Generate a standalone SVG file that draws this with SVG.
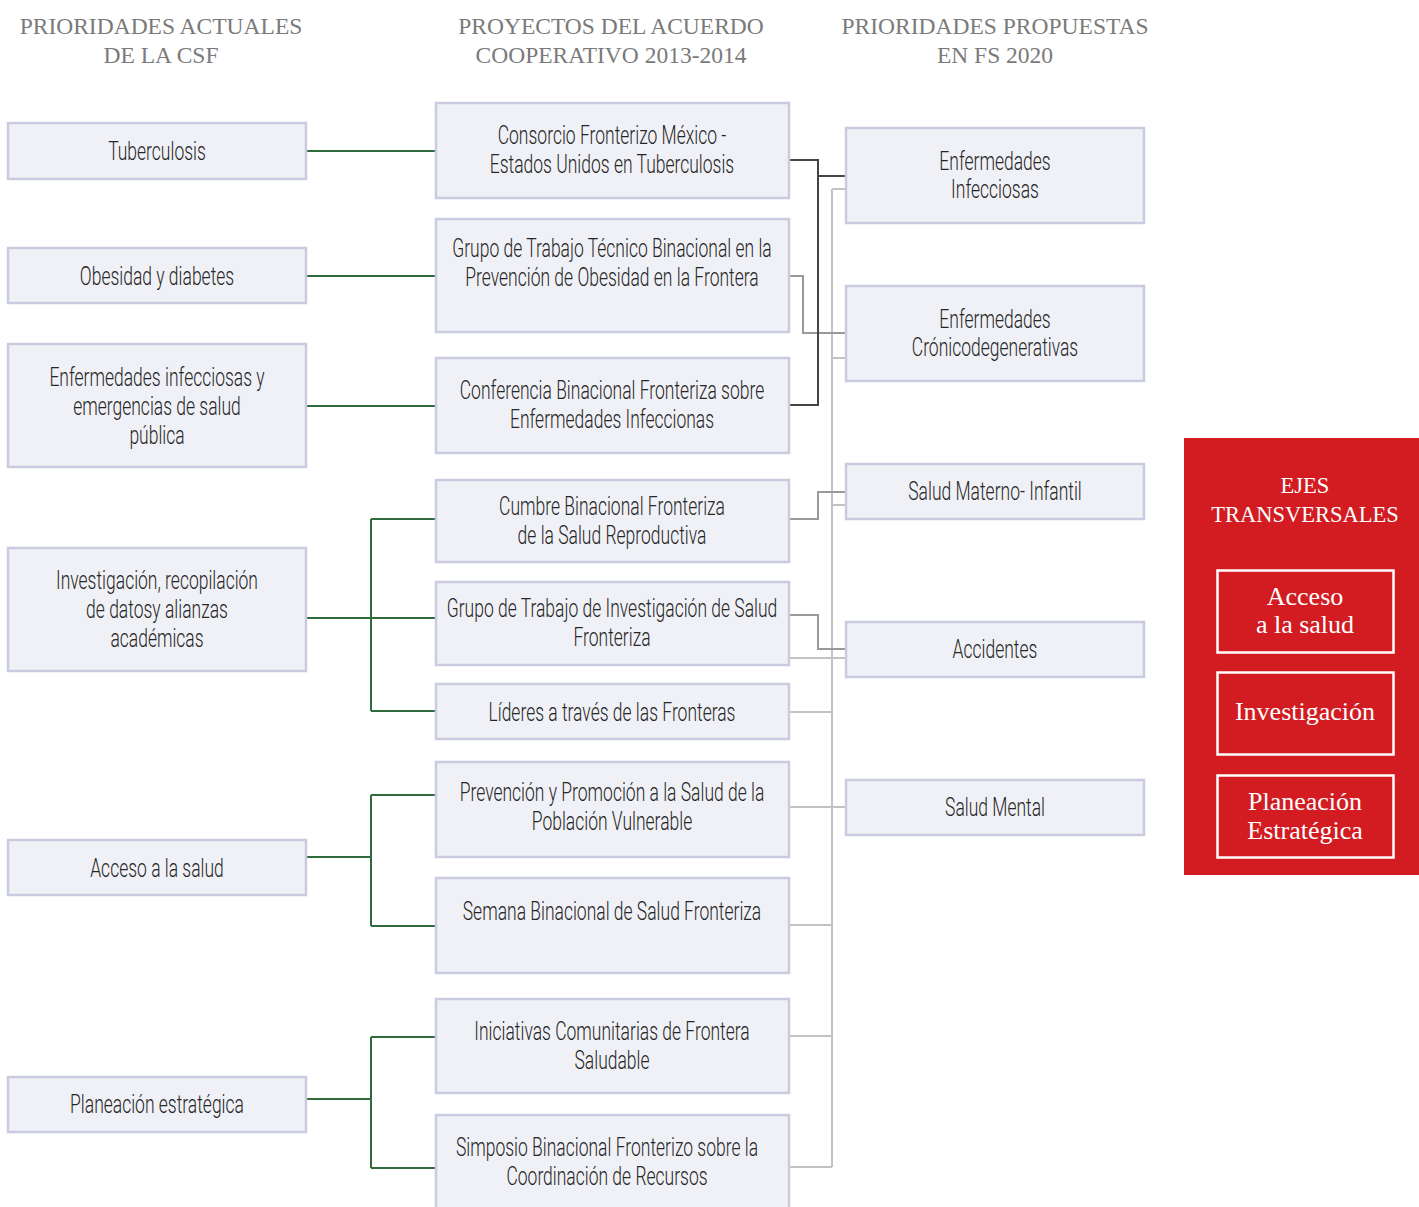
<svg xmlns="http://www.w3.org/2000/svg" width="1419" height="1207" viewBox="0 0 1419 1207">
<style>
.box{fill:#f0f1f6;stroke:#c9cbe0;stroke-width:2.5}
.t{font-family:Roboto,"Liberation Sans",sans-serif;font-weight:300;font-size:25px;fill:#262626;text-anchor:middle}
.h{font-family:"Liberation Serif",serif;font-size:23.5px;fill:#7a7a7a;text-anchor:middle}
.w{font-family:"Liberation Serif",serif;fill:#fff;text-anchor:middle}
.g{fill:none;stroke:#2f6b3b;stroke-width:2}
.dk{fill:none;stroke:#444;stroke-width:2}
.md{fill:none;stroke:#999;stroke-width:2}
.lt{fill:none;stroke:#c2c2c2;stroke-width:2}
</style>
<rect width="1419" height="1207" fill="#fff"/>
<g id="headers">
<text class="h" x="161" y="34">PRIORIDADES ACTUALES<tspan x="161" y="63">DE LA CSF</tspan></text>
<text class="h" x="611" y="34">PROYECTOS DEL ACUERDO<tspan x="611" y="63">COOPERATIVO 2013-2014</tspan></text>
<text class="h" x="995" y="34">PRIORIDADES PROPUESTAS<tspan x="995" y="63">EN FS 2020</tspan></text>
</g>
<g id="connectors">
<path class="g" d="M306 151H436M306 276H436M306 406H436"/>
<path class="g" d="M306 618H371M371 519V711M371 519H436M371 618H436M371 711H436"/>
<path class="g" d="M306 857H371M371 795V926M371 795H436M371 926H436"/>
<path class="g" d="M306 1099H371M371 1037V1168M371 1037H436M371 1168H436"/>
<path class="lt" d="M832 189V1167M832 189H846M832 358H846M832 505H846M789 658H846M789 712H832M789 807H846M789 925H832M789 1036H832M789 1167H832"/>
<path class="md" d="M789 276H803V333H846M789 519H818V492H846M789 615H818V649H846"/>
<path class="dk" d="M789 160H818V405H789M818 176H846"/>
</g>
<g id="l1"><rect class="box" x="8" y="123" width="298" height="56"/><text class="t" transform="matrix(0.7 0 0 1 157 0)"><tspan x="0" y="160">Tuberculosis</tspan></text></g>
<g id="l2"><rect class="box" x="8" y="248" width="298" height="55"/><text class="t" transform="matrix(0.7 0 0 1 157 0)"><tspan x="0" y="285">Obesidad y diabetes</tspan></text></g>
<g id="l3"><rect class="box" x="8" y="344" width="298" height="123"/><text class="t" transform="matrix(0.7 0 0 1 157 0)"><tspan x="0" y="386">Enfermedades infecciosas y</tspan><tspan x="0" y="415">emergencias de salud</tspan><tspan x="0" y="444">pública</tspan></text></g>
<g id="l4"><rect class="box" x="8" y="548" width="298" height="123"/><text class="t" transform="matrix(0.7 0 0 1 157 0)"><tspan x="0" y="589">Investigación, recopilación</tspan><tspan x="0" y="618">de datosy alianzas</tspan><tspan x="0" y="647">académicas</tspan></text></g>
<g id="l5"><rect class="box" x="8" y="840" width="298" height="55"/><text class="t" transform="matrix(0.7 0 0 1 157 0)"><tspan x="0" y="877">Acceso a la salud</tspan></text></g>
<g id="l6"><rect class="box" x="8" y="1077" width="298" height="55"/><text class="t" transform="matrix(0.7 0 0 1 157 0)"><tspan x="0" y="1113">Planeación estratégica</tspan></text></g>

<g id="m1"><rect class="box" x="436" y="103" width="353" height="95"/><text class="t" transform="matrix(0.7 0 0 1 612 0)"><tspan x="0" y="144">Consorcio Fronterizo México -</tspan><tspan x="0" y="173">Estados Unidos en Tuberculosis</tspan></text></g>
<g id="m2"><rect class="box" x="436" y="219" width="353" height="113"/><text class="t" transform="matrix(0.7 0 0 1 612 0)"><tspan x="0" y="257">Grupo de Trabajo Técnico Binacional en la</tspan><tspan x="0" y="286">Prevención de Obesidad en la Frontera</tspan></text></g>
<g id="m3"><rect class="box" x="436" y="358" width="353" height="95"/><text class="t" transform="matrix(0.7 0 0 1 612 0)"><tspan x="0" y="399">Conferencia Binacional Fronteriza sobre</tspan><tspan x="0" y="428">Enfermedades Infeccionas</tspan></text></g>
<g id="m4"><rect class="box" x="436" y="480" width="353" height="82"/><text class="t" transform="matrix(0.7 0 0 1 612 0)"><tspan x="0" y="515">Cumbre Binacional Fronteriza</tspan><tspan x="0" y="544">de la Salud Reproductiva</tspan></text></g>
<g id="m5"><rect class="box" x="436" y="582" width="353" height="83"/><text class="t" transform="matrix(0.7 0 0 1 612 0)"><tspan x="0" y="617">Grupo de Trabajo de Investigación de Salud</tspan><tspan x="0" y="646">Fronteriza</tspan></text></g>
<g id="m6"><rect class="box" x="436" y="684" width="353" height="55"/><text class="t" transform="matrix(0.7 0 0 1 612 0)"><tspan x="0" y="721">Líderes a través de las Fronteras</tspan></text></g>
<g id="m7"><rect class="box" x="436" y="762" width="353" height="95"/><text class="t" transform="matrix(0.7 0 0 1 612 0)"><tspan x="0" y="801">Prevención y Promoción a la Salud de la</tspan><tspan x="0" y="830">Población Vulnerable</tspan></text></g>
<g id="m8"><rect class="box" x="436" y="878" width="353" height="95"/><text class="t" transform="matrix(0.7 0 0 1 612 0)"><tspan x="0" y="920">Semana Binacional de Salud Fronteriza</tspan></text></g>
<g id="m9"><rect class="box" x="436" y="999" width="353" height="94"/><text class="t" transform="matrix(0.7 0 0 1 612 0)"><tspan x="0" y="1040">Iniciativas Comunitarias de Frontera</tspan><tspan x="0" y="1069">Saludable</tspan></text></g>
<g id="m10"><rect class="box" x="436" y="1115" width="353" height="100"/><text class="t" transform="matrix(0.7 0 0 1 607 0)"><tspan x="0" y="1156">Simposio Binacional Fronterizo sobre la</tspan><tspan x="0" y="1185">Coordinación de Recursos</tspan></text></g>

<g id="r1"><rect class="box" x="846" y="128" width="298" height="95"/><text class="t" transform="matrix(0.7 0 0 1 995 0)"><tspan x="0" y="170">Enfermedades</tspan><tspan x="0" y="198">Infecciosas</tspan></text></g>
<g id="r2"><rect class="box" x="846" y="286" width="298" height="95"/><text class="t" transform="matrix(0.7 0 0 1 995 0)"><tspan x="0" y="328">Enfermedades</tspan><tspan x="0" y="356">Crónicodegenerativas</tspan></text></g>
<g id="r3"><rect class="box" x="846" y="464" width="298" height="55"/><text class="t" transform="matrix(0.7 0 0 1 995 0)"><tspan x="0" y="500">Salud Materno- Infantil</tspan></text></g>
<g id="r4"><rect class="box" x="846" y="622" width="298" height="55"/><text class="t" transform="matrix(0.7 0 0 1 995 0)"><tspan x="0" y="658">Accidentes</tspan></text></g>
<g id="r5"><rect class="box" x="846" y="780" width="298" height="55"/><text class="t" transform="matrix(0.7 0 0 1 995 0)"><tspan x="0" y="816">Salud Mental</tspan></text></g>

<g id="ejes">
<rect x="1184" y="438" width="235" height="437" fill="#d21c22"/>
<text class="w" x="1305" y="493" font-size="22.5">EJES<tspan x="1305" y="522">TRANSVERSALES</tspan></text>
<g id="e1"><rect x="1217.5" y="570.5" width="176" height="82" fill="none" stroke="#fff" stroke-width="2.5"/><text class="w" x="1305" y="605" font-size="26">Acceso<tspan x="1305" y="633">a la salud</tspan></text></g>
<g id="e2"><rect x="1217.5" y="672.5" width="176" height="82" fill="none" stroke="#fff" stroke-width="2.5"/><text class="w" x="1305" y="720" font-size="26">Investigación</text></g>
<g id="e3"><rect x="1217.5" y="775.5" width="176" height="82" fill="none" stroke="#fff" stroke-width="2.5"/><text class="w" x="1305" y="810" font-size="26">Planeación<tspan x="1305" y="839">Estratégica</tspan></text></g>
</g>
</svg>
